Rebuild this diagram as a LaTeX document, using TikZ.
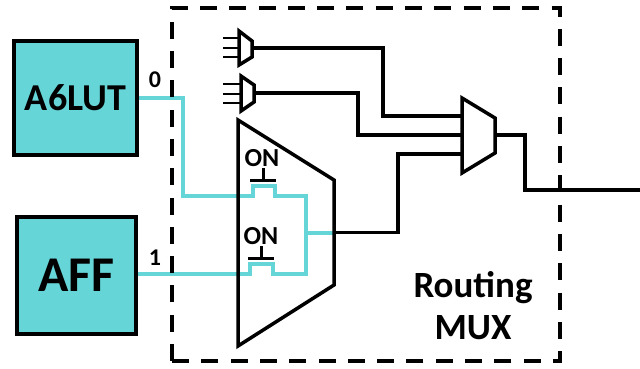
\documentclass[tikz,border=0pt]{standalone}
\usepackage{fontspec}
\setmainfont{Carlito}
\usetikzlibrary{positioning}
\definecolor{lutcyan}{HTML}{66D5D8}
\tikzset{
  blockbox/.style={draw=black, fill=lutcyan, line width=3.5pt, inner sep=0pt, font=\bfseries},
  wire/.style={draw=black, line width=3.2pt, line join=miter},
  onwire/.style={draw=lutcyan, line width=4pt, line join=miter},
  pinwire/.style={draw=black, line width=2.2pt},
  muxshape/.style={draw=black, line width=3.5pt, fill=white, line join=miter},
  gatewire/.style={draw=black, line width=3pt},
  lbl/.style={inner sep=0pt, font=\bfseries}
}
\begin{document}
\begin{tikzpicture}[x=1pt, y=-1pt]
  \useasboundingbox (0,0) rectangle (640,368);

  % blocks
  \node[blockbox, minimum width=123pt, minimum height=114pt, font=\bfseries\fontsize{38}{38}\selectfont] (lut) at (75.5,98) {\raisebox{-2pt}{A6LUT}};
  \node[blockbox, minimum width=119pt, minimum height=117pt, font=\bfseries\fontsize{50}{50}\selectfont] (aff) at (76.5,275.5) {\raisebox{-2pt}{AFF}};
  \node[lbl, font=\bfseries\fontsize{24}{24}\selectfont] (lbl0) at (155,80) {0};
  \node[lbl, font=\bfseries\fontsize{24}{24}\selectfont] (lbl1) at (155,258) {1};

  % on paths, under the mux outline
  \coordinate (lutout) at (lut.east |- 0,98);
  \coordinate (affout) at (aff.east |- 0,274);
  \coordinate (join) at (306,232.5);
  \draw[onwire] (lutout) -| (183,196) -- (253,196) -- (253,186) -- (275,186) -- (275,196) -- (306,196) -- (306,274)
    -- (273,274) -- (273,264) -- (250,264) -- (250,274) -- (affout);

  % routing mux, big
  \coordinate (bigout) at (334,232.5);
  \draw[onwire] (join) -- (bigout);
  \draw[muxshape, fill=none] (238,120) coordinate (bigtop) -- (334,180) -- (334,285) -- (238,346) coordinate (bigbot) -- cycle;

  % small input muxes
  \draw[pinwire] (223,38) -- (238,38) (223,48) -- (238,48) (223,57) -- (238,57);
  \draw[pinwire] (223,84) -- (241,84) (223,94) -- (241,94) (223,103) -- (241,103);
  \draw[muxshape] (239,31) -- (252,41) -- (252,57) -- (239,65) -- cycle;
  \draw[muxshape] (241,76) -- (254,85) -- (254,102) -- (241,111) -- cycle;
  \coordinate (inaout) at (252,48);
  \coordinate (inbout) at (254,93);

  % output mux
  \draw[muxshape] (462,98) -- (495,118) -- (495,153) -- (462,173) -- cycle;
  \coordinate (outa) at (462,116);
  \coordinate (outb) at (462,135);
  \coordinate (outc) at (462,154);
  \coordinate (outy) at (495,135);
  \coordinate (pad) at (640,190);

  \draw[wire] (inaout) -- (383,48) -- (383,116) -- (outa);
  \draw[wire] (inbout) -- (358,93) -- (358,135) -- (outb);
  \draw[wire] (bigout) -- (398,232.5) -- (398,154) -- (outc);
  \draw[wire] (outy) -- (525,135) -- (525,190) -- (pad);

  % pass gates
  \node[lbl, font=\bfseries\fontsize{26}{26}\selectfont] (on0) at (262,158) {ON};
  \node[lbl, font=\bfseries\fontsize{26}{26}\selectfont] (on1) at (261,236) {ON};
  \draw[gatewire] (263,168) -- (263,180) (250,180) -- (276,180);
  \draw[gatewire] (261,246) -- (261,258) (248,258) -- (274,258);

  % region
  \node[lbl, align=center, font=\bfseries\fontsize{37}{42}\selectfont] (routing) at (473,306) {Routing\\MUX};
  \draw[black, line width=4pt, dash pattern=on 17pt off 12.3pt] (172,361) -- (172,8) -- (560,8) -- (560,361) -- cycle;
\end{tikzpicture}
\end{document}
